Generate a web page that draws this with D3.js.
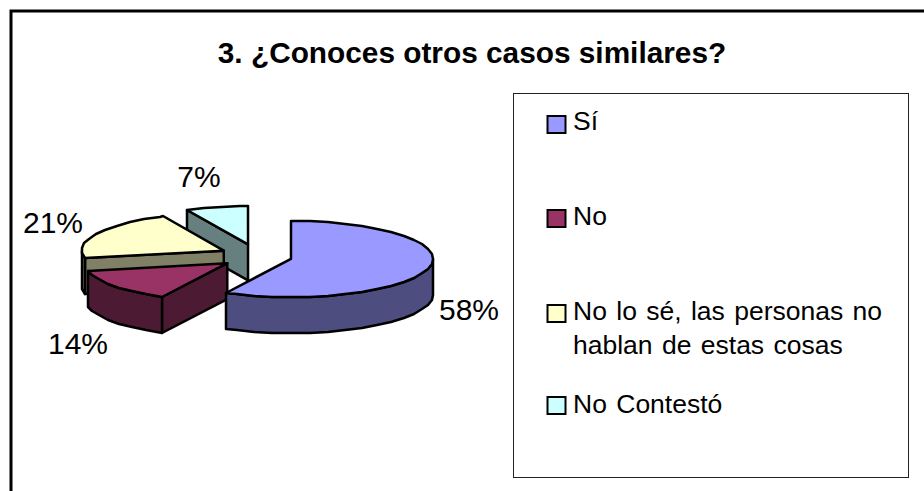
<!DOCTYPE html>
<html><head><meta charset="utf-8">
<script src="https://cdn.jsdelivr.net/npm/d3@7"></script>
<style>html,body{margin:0;padding:0;background:#fff}svg{display:block}text{font-family:"Liberation Sans",Arial,sans-serif;fill:#000}</style>
</head><body><svg id="c" width="924" height="491"></svg>
<script>
const titleText = "3. ¿Conoces otros casos similares?";
const categories = ["Sí","No","No lo sé, las personas no|hablan de estas cosas","No Contestó"];
const values = [57.6,14.2,21.1,7.1];
const topColors = ["#9999ff","#993366","#ffffcc","#ccffff"];
const sideColors = ["#4d4d80","#4d1a33","#808066","#668080"];

const svg = d3.select("#c");
const W=924,H=491;
svg.append("path").attr("d",`M11,${H}V11H${W}`).attr("fill","none").attr("stroke","#000").attr("stroke-width",3);
svg.append("text").attr("x",472).attr("y",63).attr("text-anchor","middle").attr("font-size",29.8).attr("font-weight","bold").text(titleText);

// pie geometry
const cx=256,cy=256,rx=142,ry=38,depth=36,ex=36,ey=12;
const arcs=d3.pie().sort(null).value(d=>d)(values);
const sx=d3.scaleLinear().domain([-1,1]).range([-rx,rx]);
const sy=d3.scaleLinear().domain([-1,1]).range([-ry,ry]);
const step=Math.PI/24;
arcs.forEach(a=>{const m=(a.startAngle+a.endAngle)/2;a.cx=cx+ex*Math.sin(m);a.cy=cy-ey*Math.cos(m);});
const pt=(a,t,dz=0)=>[Math.round(a.cx+sx(Math.sin(t))),Math.round(a.cy-sy(Math.cos(t))+dz)];
const samples=(t0,t1)=>{const r=d3.range(t0,t1,step);r.push(t1);return r;};
const line=d3.line().curve(d3.curveLinear);
const order=[3,2,1,0];
const g=svg.append("g").attr("stroke","#000").attr("stroke-width",2.5).attr("stroke-linejoin","round");
order.forEach(i=>{
  const a=arcs[i];
  const t0=Math.max(a.startAngle,Math.PI/2),t1=Math.min(a.endAngle,Math.PI*1.5);
  // cut face at the start angle is visible for every slice but the first
  if(i>0){
    const s=pt(a,a.startAngle);
    g.append("path").attr("fill",sideColors[i]).attr("d",line([[a.cx,a.cy],s,[s[0],s[1]+depth],[a.cx,a.cy+depth]])+"Z");
  }
  if(t1>t0){
    const ts=samples(t0,t1);
    const top=ts.map(t=>pt(a,t));
    const bot=ts.map(t=>pt(a,t,depth)).reverse();
    g.append("path").attr("fill",sideColors[i]).attr("d",line(top.concat(bot))+"Z");
  }
  const rim=samples(a.startAngle,a.endAngle).map(t=>pt(a,t));
  g.append("path").attr("fill",topColors[i]).attr("d",line([[a.cx,a.cy]].concat(rim))+"Z");
});

// percent labels
const total=d3.sum(values);
const labelPos=[[469,320],[78,354],[53,233],[199,187]];
values.forEach((v,i)=>{
  svg.append("text").attr("x",labelPos[i][0]).attr("y",labelPos[i][1]).attr("text-anchor","middle").attr("font-size",30).text(d3.format(".0%")(v/total));
});

// legend
svg.append("rect").attr("x",513.5).attr("y",93.5).attr("width",395).attr("height",384).attr("fill","#fff").attr("stroke","#222").attr("stroke-width",1);
const swY=[116,210,305,397];
const baseY=[130,225,320,413];
categories.forEach((c,i)=>{
  svg.append("rect").attr("x",547.5).attr("y",swY[i]).attr("width",18).attr("height",17).attr("fill",topColors[i]).attr("stroke","#000").attr("stroke-width",2);
  c.split("|").forEach((s,j)=>{
    svg.append("text").attr("x",573).attr("y",baseY[i]+j*34).attr("font-size",26.5).attr("word-spacing",2).text(s);
  });
});
</script></body></html>
